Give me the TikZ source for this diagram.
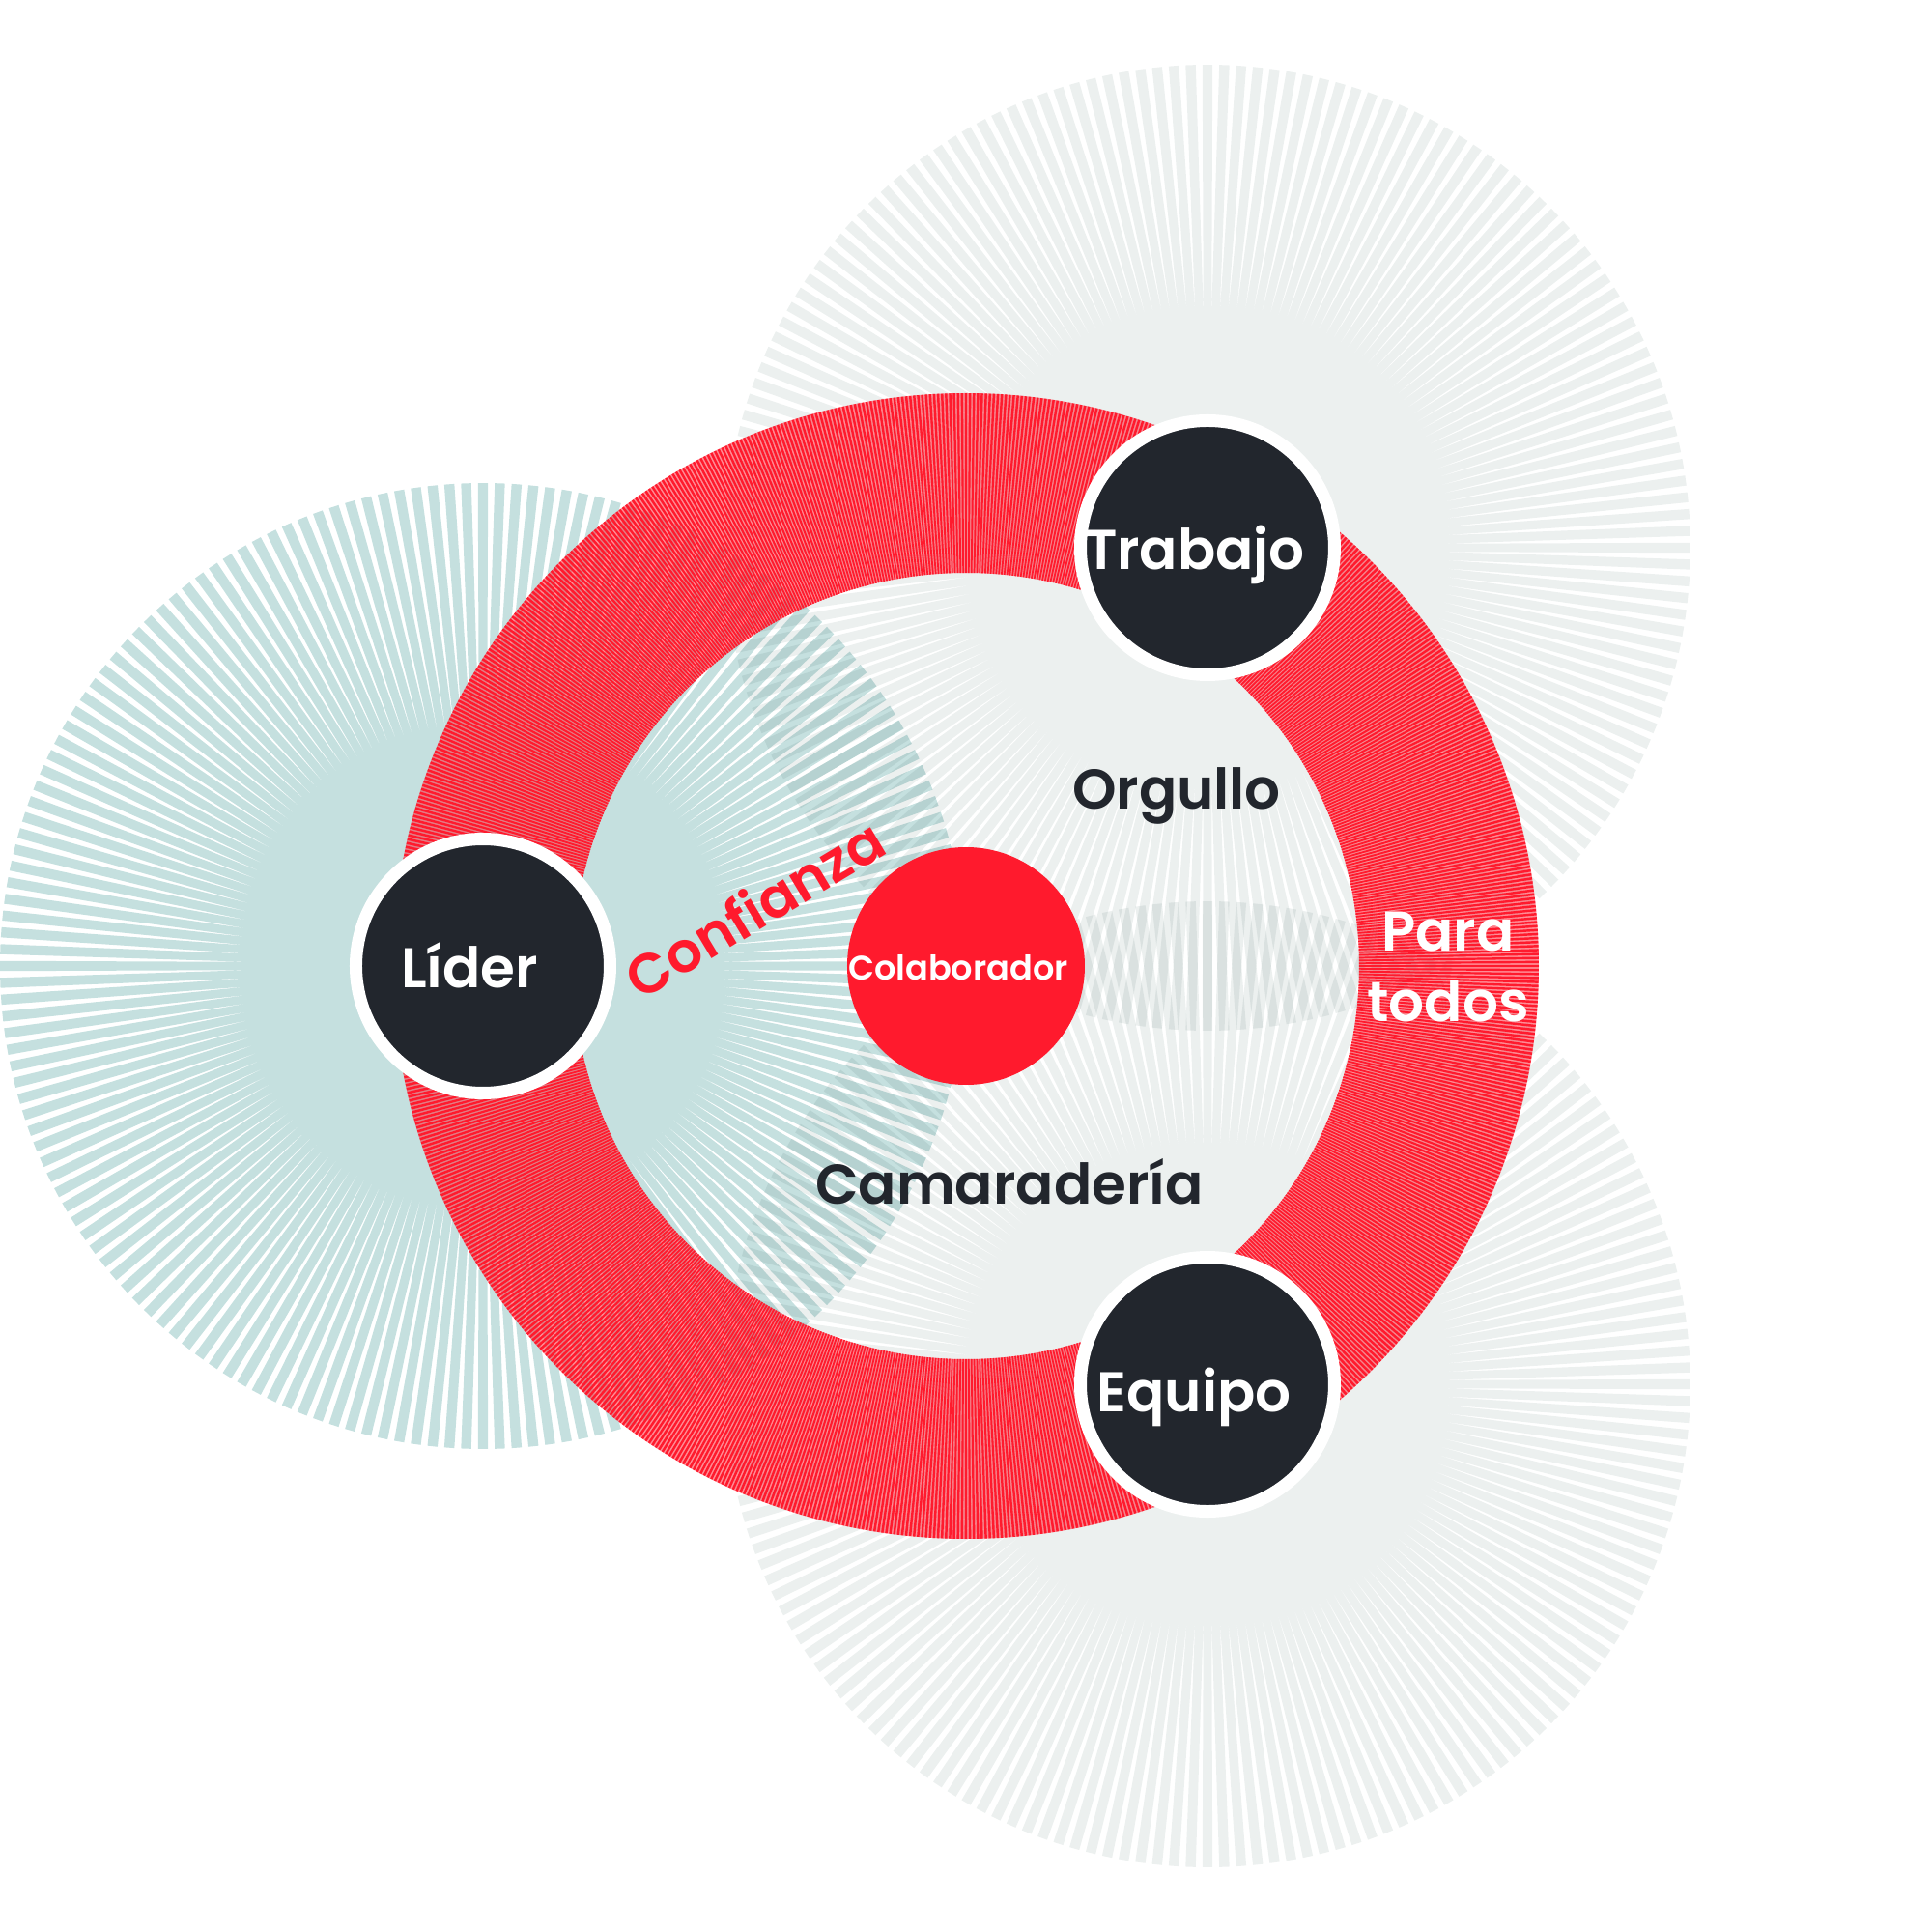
\documentclass[tikz,border=0pt]{standalone}
\usepackage{fontspec}
\setmainfont{Poppins}[BoldFont={Poppins SemiBold}]

\definecolor{gris}{RGB}{236,240,239}
\definecolor{aqua}{RGB}{197,224,223}
\definecolor{rojo}{RGB}{255,26,45}
\definecolor{oscuro}{RGB}{34,38,45}

% destello: centro, color
\newcommand{\destello}[2]{%
    \fill[#2, blend mode=multiply, shift={(#1)}] (-1:2.4)
        \foreach \a in {0,2,...,358} { -- (\a-0.6:5) -- (\a+0.6:5) -- (\a+1:2.4) } -- cycle;
}

\tikzset{
    circulo/.style={circle, fill=oscuro, draw=white, line width=1.3mm, minimum size=2.63cm, inner sep=0pt},
    etiqueta/.style={font=\fontsize{16.5}{20.8}\selectfont\bfseries, inner sep=0pt},
    centrado/.style={text height=0.45cm, text depth=0pt},
}

\begin{document}
\begin{tikzpicture}[>=latex]
    \useasboundingbox (-10,-10) rectangle (10,10);

    % Centros de los destellos
    \coordinate (c-lider) at (180:5);
    \coordinate (c-trabajo) at (60:5);
    \coordinate (c-equipo) at (-60:5);

    % Destellos de fondo
    \destello{c-trabajo}{gris}
    \destello{c-equipo}{gris}
    \destello{c-lider}{aqua}

    % Anillo rojo rayado
    \fill[rojo, opacity=0.5, even odd rule] (0,0) circle (5.93) (0,0) circle (4.07);
    \fill[rojo] \foreach \i [evaluate=\i as \a using \i*0.4] in {0,...,899}
        { (\a-0.12:4.07) -- (\a-0.12:5.93) -- (\a+0.12:5.93) -- (\a+0.12:4.07) -- cycle };

    % Circulos
    \node[circle, fill=rojo, minimum size=2.46cm, inner sep=0pt] (colaborador) at (0,0) {};
    \node[circulo] (lider) at (c-lider) {};
    \node[circulo] (trabajo) at (c-trabajo) {};
    \node[circulo] (equipo) at (c-equipo) {};

    % Textos
    \node[etiqueta, centrado, text=white] (t-lider) at ([xshift=-1.4mm]lider.center) {Líder};
    \node[etiqueta, centrado, text=white] (t-trabajo) at ([xshift=-1.3mm]trabajo.center) {Trabajo};
    \node[etiqueta, centrado, text=white] (t-equipo) at ([xshift=-1.4mm, yshift=-0.6mm]equipo.center) {Equipo};
    \node[etiqueta, text=white, font=\fontsize{10}{12}\selectfont\bfseries, text height=0.28cm, text depth=0pt]
        (t-colaborador) at ([xshift=-0.8mm]colaborador.center) {Colaborador};
    \node[etiqueta, anchor=base, text=oscuro] (orgullo) at (2.18,1.62) {Orgullo};
    \node[etiqueta, anchor=base, text=oscuro] (camaraderia) at (0.45,-2.46) {Camaradería};
    \node[etiqueta, text=rojo, rotate=31] (confianza) at (-2.19,0.6) {Confianza};
    \node[etiqueta, text=white, align=center] (paratodos) at (4.99,-0.01) {Para\\todos};
\end{tikzpicture}
\end{document}
